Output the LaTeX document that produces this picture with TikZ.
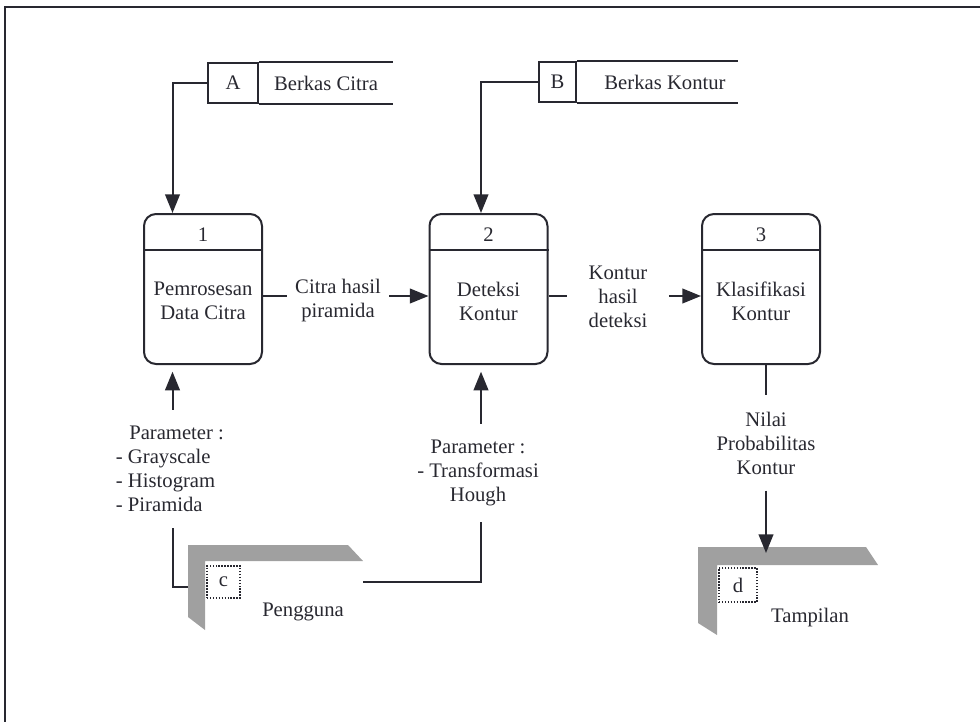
\documentclass[tikz,border=0pt]{standalone}
\usepackage{fontspec}
\setmainfont{Liberation Serif}
\usetikzlibrary{arrows.meta,calc}
\definecolor{ink}{RGB}{40,40,48}
\definecolor{entgray}{RGB}{160,160,160}
\begin{document}
\begin{tikzpicture}[x=0.75pt,y=-0.75pt,
  line/.style={draw=ink,line width=1.5pt},
  flow/.style={line,-{Triangle[length=14pt,width=11pt]}},
  txt/.style={text=ink,font=\fontsize{15.5}{18}\selectfont},
  proc/.style={draw=ink,line width=1.5pt,rounded corners=9pt,
    minimum width=88.5pt,minimum height=112.5pt,inner sep=0pt},
  idbox/.style={txt,draw=ink,line width=1.5pt,minimum height=30pt,inner sep=0pt},
  lbl/.style={txt,align=center,inner xsep=5pt,inner ysep=2pt},
  param/.style={txt,inner xsep=2pt,inner ysep=12pt},
  dotbox/.style={txt,draw=ink,line width=1.1pt,dash pattern=on 1.1pt off 1.1pt,inner sep=0pt},
  entity/.style={fill=entgray,draw=none}
]
\useasboundingbox (0,0) rectangle (980,721);

% outer frame
\draw[line] (5,740) -- (5,6.5) -- (990,6.5);

% data stores
\node[idbox,minimum width=37.5pt] (sA) at (233,83) {A};
\draw[line] (sA.north east) -- ++(134,0);
\draw[line] (sA.south east) -- ++(134,0);
\node[txt] (sAt) at (326,83) {Berkas Citra};

\node[idbox,minimum width=27.75pt] (sB) at (557.5,82) {B};
\draw[line] (sB.north east) -- ++(161,0);
\draw[line] (sB.south east) -- ++(161,0);
\node[txt] (sBt) at (665,82) {Berkas Kontur};

% processes
\foreach \n/\cx/\num/\body in {1/203/1/{Pemrosesan\\Data Citra},
                              2/488.5/2/{Deteksi\\Kontur},
                              3/761/3/{Klasifikasi\\Kontur}} {
  \node[proc] (p\n) at (\cx,289) {};
  \draw[line] ($(p\n.north west)+(0,37)$) -- ($(p\n.north east)+(0,37)$);
  \node[txt] (n\n) at (\cx,235) {\num};
  \node[txt,align=center] (t\n) at (\cx,301) {\body};
}

% columns and rows used by the connectors
\coordinate (k1) at (172.5,0);
\coordinate (k2) at (481,0);
\coordinate (k3) at (766,0);
\coordinate (fy) at (0,296);

% store -> process
\draw[flow] (sA.west) -| (p1.north -| k1);
\draw[flow] (sB.west) -| (p2.north -| k2);

% process -> process
\node[lbl,inner xsep=6pt] (l12) at (338,301) {Citra hasil\\piramida};
\draw[line] (p1.east |- fy) -- (l12.west |- fy);
\draw[flow] (l12.east |- fy) -- (p2.west |- fy);

\node[lbl,inner xsep=16pt] (l23) at (618,297) {Kontur\\hasil\\deteksi};
\draw[line] (p2.east |- fy) -- (l23.west |- fy);
\draw[flow] (l23.east |- fy) -- (p3.west |- fy);

% parameters from the user
\node[param,align=left,anchor=west] (par1) at (113,469)
  {\hspace*{10pt}Parameter :\\- Grayscale\\- Histogram\\- Piramida};
\draw[flow,shorten >=5pt] (par1.north -| k1) -- (p1.south -| k1);

\node[param,align=center] (par2) at (478,473)
  {Parameter :\\- Transformasi\\Hough};
\draw[flow,shorten >=5pt] (par2.north -| k2) -- (p2.south -| k2);

% external entity c
\fill[entity] (188,545) -- (348,545) -- (363,561) -- (205,561) -- (205,630) -- (188,617) -- cycle;
\node[dotbox,minimum width=24.75pt,minimum height=24pt] (cbox) at (223.5,582) {c};
\node[txt] (cname) at (303,612) {Pengguna};
\coordinate (cL) at (188,587);
\coordinate (cR) at (363,582);
\draw[line] (par1.south -| k1) |- (cL);
\draw[line] (cR) -| (par2.south -| k2);

% output to entity d
\node[param,align=center] (nil) at (766,443) {Nilai\\Probabilitas\\Kontur};
\draw[line] (p3.south -| k3) -- (nil.north -| k3);
\fill[entity] (698,547) -- (866,547) -- (878,565) -- (717,565) -- (717,635) -- (698,623) -- cycle;
\coordinate (dTop) at (766,553);
\draw[flow] (nil.south -| k3) -- (dTop);
\node[dotbox,minimum width=28.5pt,minimum height=25.5pt] (dbox) at (738,585) {d};
\node[txt] (dname) at (810,618) {Tampilan};
\end{tikzpicture}
\end{document}
